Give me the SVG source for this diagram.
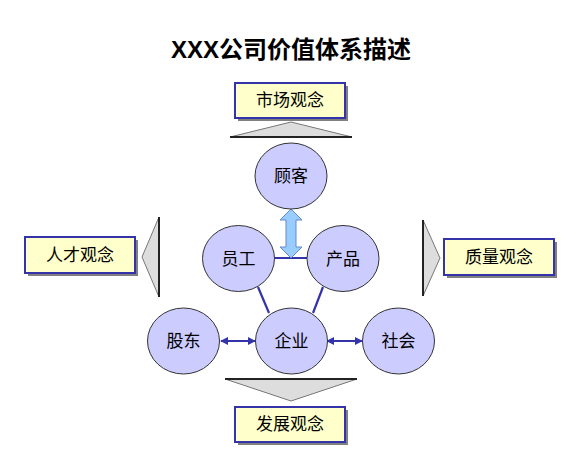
<svg xmlns="http://www.w3.org/2000/svg" width="583" height="457" viewBox="0 0 583 457">
<defs>
<style>
.t{font-family:"Liberation Sans","Noto Sans CJK SC",sans-serif;font-size:17px;fill:#000;text-anchor:middle}
.title{font-family:"Liberation Sans","Noto Sans CJK SC",sans-serif;font-size:24px;font-weight:bold;fill:#000;text-anchor:middle}
.c{fill:#ccccff;stroke:#333333;stroke-width:1}
.box{fill:#ffffcc;stroke:#3333aa;stroke-width:2}
.sh{fill:#808080}
.tri{fill:#dddddd;stroke:#777777;stroke-width:1}
.base{stroke:#222222;stroke-width:2;fill:none}
.ln{stroke:#3333aa;stroke-width:2.2;fill:none}
.dar{stroke:#3333aa;stroke-width:2;fill:none;marker-start:url(#ah);marker-end:url(#ah)}
</style>
<marker id="ah" viewBox="0 0 10 10" refX="9" refY="5" markerWidth="4" markerHeight="4" orient="auto-start-reverse">
<path d="M0,0 L10,5 L0,10 z" fill="#3333aa"/>
</marker>
</defs>
<rect width="583" height="457" fill="#ffffff"/>
<text class="title" x="291" y="58">XXX公司价值体系描述</text>

<g id="triangles">
<polygon class="tri" points="230,137 291,122 352,137"/>
<line class="base" x1="230" y1="137" x2="352" y2="137"/>
<polygon class="tri" points="225,379 291,401 357,379"/>
<line class="base" x1="225" y1="379" x2="357" y2="379"/>
<polygon class="tri" points="159,217 142,257 159,297"/>
<line class="base" x1="159" y1="217" x2="159" y2="297" stroke="#666666" stroke-width="1.5"/>
<polygon class="tri" points="423,220 440,258 423,296"/>
<line class="base" x1="423" y1="220" x2="423" y2="296" stroke="#666666" stroke-width="1.5"/>
</g>

<g id="box-market">
<rect class="sh" x="238" y="86" width="110" height="35"/>
<rect class="box" x="235" y="83" width="110" height="35"/>
<text class="t" x="290" y="106">市场观念</text>
</g>
<g id="box-talent">
<rect class="sh" x="28" y="240" width="110" height="36"/>
<rect class="box" x="25" y="237" width="110" height="36"/>
<text class="t" x="80" y="261">人才观念</text>
</g>
<g id="box-quality">
<rect class="sh" x="447" y="242" width="110" height="36"/>
<rect class="box" x="444" y="239" width="110" height="36"/>
<text class="t" x="499" y="263">质量观念</text>
</g>
<g id="box-develop">
<rect class="sh" x="238" y="410" width="110" height="35"/>
<rect class="box" x="235" y="407" width="110" height="35"/>
<text class="t" x="290" y="430">发展观念</text>
</g>

<g id="connectors">
<line class="ln" x1="274" y1="258" x2="307" y2="258"/>
<line class="ln" x1="258" y1="287" x2="269" y2="313"/>
<line class="ln" x1="323" y1="287" x2="313" y2="313"/>
<line class="dar" x1="221" y1="341" x2="255" y2="341"/>
<line class="dar" x1="327" y1="341" x2="362" y2="341"/>
<polygon points="291,209 302,220 296,220 296,247 302,247 291,258 280,247 286,247 286,220 280,220" fill="#99ccff" stroke="#6688cc" stroke-width="1"/>
</g>

<g id="node-customer">
<ellipse class="c" cx="291" cy="176" rx="36" ry="33"/>
<text class="t" x="291" y="182">顾客</text>
</g>
<g id="node-staff">
<ellipse class="c" cx="238.5" cy="258.5" rx="36" ry="33"/>
<text class="t" x="238.5" y="264.5">员工</text>
</g>
<g id="node-product">
<ellipse class="c" cx="343" cy="258.5" rx="36" ry="33"/>
<text class="t" x="343" y="264.5">产品</text>
</g>
<g id="node-shareholder">
<ellipse class="c" cx="183.5" cy="341" rx="36" ry="33"/>
<text class="t" x="183.5" y="347">股东</text>
</g>
<g id="node-enterprise">
<ellipse class="c" cx="291.5" cy="341" rx="36" ry="33"/>
<text class="t" x="291.5" y="347">企业</text>
</g>
<g id="node-society">
<ellipse class="c" cx="398.5" cy="341" rx="36" ry="33"/>
<text class="t" x="398.5" y="347">社会</text>
</g>
</svg>
